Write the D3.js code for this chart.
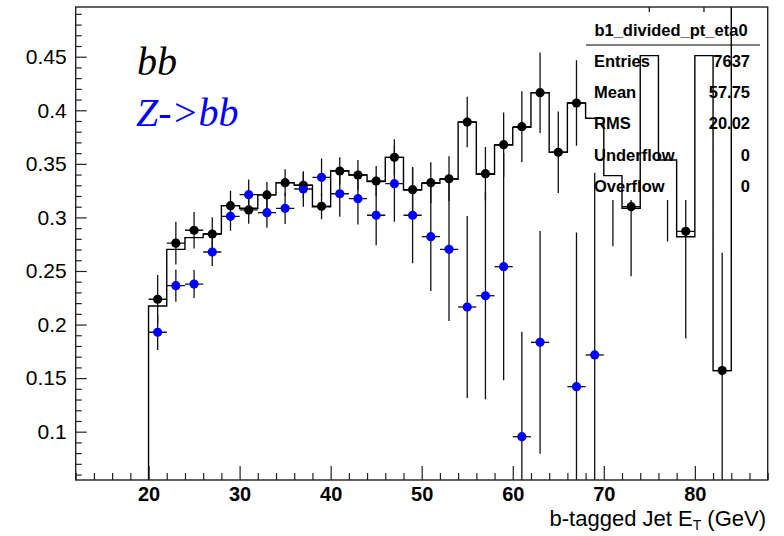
<!DOCTYPE html>
<html><head><meta charset="utf-8">
<script src="https://cdn.jsdelivr.net/npm/d3@7/dist/d3.min.js"></script>
<style>
body{margin:0;background:#fff;}
svg{display:block;}
</style></head>
<body><svg id="c" width="784" height="536"></svg>
<script>
// ---- data ----
const binEdgesLow = [12,14,16,18,20,22,24,26,28,30,32,34,36,38,40,42,44,46,48,50,52,54,56,58,60,62,64,66,68,70,72,74,76,78,80,82,84,86];
const binWidth = 2;
const stepValues = [0,0,0,0,0.2173,0.2702,0.2811,0.2845,0.311,0.3085,0.321,0.3324,0.330,0.310,0.3436,0.3396,0.3334,0.356,0.3256,0.3318,0.3356,0.389,0.3402,0.3676,0.384,0.4164,0.3608,0.4068,0.3925,0.339,0.3085,0.451,0.3536,0.282,0.451,0.157,1.0,1.0];

const blackX   = [21,23,25,27,29,31,33,35,37,39,41,43,45,47,49,51,53,55,57,59,61,63,65,67,69,71,73,75,77,79,81,83];
const blackY   = [0.2236,0.276,0.288,0.2845,0.311,0.307,0.321,0.3324,0.330,0.3104,0.3433,0.3396,0.334,0.3561,0.3259,0.3324,0.3361,0.389,0.3408,0.3679,0.3847,0.4164,0.3608,0.4068,0.3925,0.339,0.310,0.451,0.3536,0.287,0.451,0.157];
const blackErr = [0.0227,0.020,0.017,0.0156,0.014,0.013,0.012,0.0125,0.012,0.012,0.0128,0.014,0.014,0.0168,0.021,0.019,0.021,0.0236,0.025,0.030,0.033,0.0375,0.038,0.040,0.045,0.066,0.065,0.10,0.076,0.10,0.10,0.11];

const blueX   = [21,23,25,27,29,31,33,35,37,39,41,43,45,47,49,51,53,55,57,59,61,63,67,69];
const blueY   = [0.1928,0.2363,0.2378,0.2677,0.301,0.3212,0.3044,0.3085,0.3265,0.3374,0.3221,0.3175,0.302,0.3315,0.302,0.282,0.2702,0.2164,0.2269,0.254,0.0953,0.1834,0.142,0.1716];
const blueErr = [0.0165,0.015,0.013,0.013,0.0134,0.0143,0.014,0.0146,0.0165,0.0177,0.0215,0.024,0.028,0.0355,0.0448,0.0507,0.067,0.085,0.0967,0.106,0.098,0.104,0.144,0.17];

const xMajorTicks = [20,30,40,50,60,70,80];
const xMajorLabels = ["20","30","40","50","60","70","80"];
const yMajorTicks = [0.1,0.15,0.2,0.25,0.3,0.35,0.4,0.45];
const yMajorLabels = ["0.1","0.15","0.2","0.25","0.3","0.35","0.4","0.45"];

const statsTitle = "b1_divided_pt_eta0";
const statsNames = ["Entries","Mean","RMS","Underflow","Overflow"];
const statsValues = ["7637","57.75","20.02","0","0"];

// ---- layout ----
const svg = d3.select("#c");
const L=75.7, R=767.7, T=7, B=480;
const x = d3.scaleLinear().domain([12,88]).range([L,R]);
const y = d3.scaleLinear().domain([0.0549,0.4964]).range([B,T]);
const FONT = "Liberation Sans, Arial, sans-serif";

svg.append("defs").append("clipPath").attr("id","fr")
  .append("rect").attr("x",L).attr("y",T).attr("width",R-L).attr("height",B-T);

const xMinor = d3.range(12,89,2).filter(v=>!xMajorTicks.includes(v));
const yMinor = d3.range(6,50,1).map(v=>v/100).filter(v=>v>0.0549 && v<0.4964 && !yMajorTicks.some(t=>Math.abs(t-v)<1e-9));

// axes
const gx = svg.append("g").attr("transform",`translate(0,${B})`);
gx.call(d3.axisBottom(x).tickValues(xMinor).tickSize(-7).tickFormat(""));
const gx2 = svg.append("g").attr("transform",`translate(0,${B})`);
gx2.call(d3.axisBottom(x).tickValues(xMajorTicks).tickSize(-14).tickPadding(7)
  .tickFormat((d,i)=>xMajorLabels[i]));
const gy = svg.append("g").attr("transform",`translate(${L},0)`);
gy.call(d3.axisLeft(y).tickValues(yMinor).tickSize(-6).tickFormat(""));
const gy2 = svg.append("g").attr("transform",`translate(${L},0)`);
gy2.call(d3.axisLeft(y).tickValues(yMajorTicks).tickSize(-11).tickPadding(9)
  .tickFormat((d,i)=>yMajorLabels[i]));
[gx,gx2,gy,gy2].forEach(g=>{g.select(".domain").remove(); g.selectAll("line").attr("stroke","#222").attr("stroke-width",1.2);});
gx2.selectAll("text").attr("font-family",FONT).attr("font-size",20).attr("font-weight","bold").attr("fill","#000");
gy2.selectAll("text").attr("font-family",FONT).attr("font-size",21).attr("fill","#000");

const plotBlack = svg.append("g").attr("clip-path","url(#fr)");
const sb = svg.append("g");
const plotTop = svg.append("g").attr("clip-path","url(#fr)");

function drawPoints(g, xs, ys, es, color){
  const pts = xs.map((v,i)=>({x:v,y:ys[i],e:es[i]}));
  g.selectAll("line.v").data(pts).enter().append("line")
    .attr("x1",d=>x(d.x)).attr("x2",d=>x(d.x))
    .attr("y1",d=>y(d.y-d.e)).attr("y2",d=>y(d.y+d.e))
    .attr("stroke","#111").attr("stroke-width",1.3);
  g.selectAll("line.h").data(pts).enter().append("line")
    .attr("x1",d=>x(d.x-binWidth/2)).attr("x2",d=>x(d.x+binWidth/2))
    .attr("y1",d=>y(d.y)).attr("y2",d=>y(d.y))
    .attr("stroke","#111").attr("stroke-width",1.3);
  g.selectAll("circle").data(pts).enter().append("circle")
    .attr("cx",d=>x(d.x)).attr("cy",d=>y(d.y)).attr("r",4.6).attr("fill",color);
}

// black points (bb)
drawPoints(plotBlack.append("g"), blackX, blackY, blackErr, "#000");

// stats box (opaque)
sb.append("rect").attr("x",585).attr("y",12).attr("width",R-585).attr("height",188).attr("fill","#fff");
sb.append("text").attr("x",671).attr("y",36).attr("text-anchor","middle")
  .attr("font-family",FONT).attr("font-weight","bold").attr("font-size",16.5).text(statsTitle);
sb.append("line").attr("x1",586).attr("x2",760).attr("y1",45).attr("y2",45).attr("stroke","#000").attr("stroke-width",1.2);
statsNames.forEach((n,i)=>{
  const yy = 67 + i*31.2;
  sb.append("text").attr("x",594).attr("y",yy).attr("font-family",FONT)
    .attr("font-weight","bold").attr("font-size",16.5).text(n);
  sb.append("text").attr("x",750).attr("y",yy).attr("text-anchor","end").attr("font-family",FONT)
    .attr("font-weight","bold").attr("font-size",16.5).text(statsValues[i]);
});

// blue points (Z->bb)
drawPoints(plotTop.append("g"), blueX, blueY, blueErr, "#0000ff");

// step histogram
const stepData = [];
binEdgesLow.forEach((lo,i)=>{ stepData.push([lo, stepValues[i]]); stepData.push([lo+binWidth, stepValues[i]]); });
const line = d3.line().x(d=>x(d[0])).y(d=>y(d[1]));
plotTop.append("path").attr("d",line(stepData)).attr("fill","none").attr("stroke","#000").attr("stroke-width",1.4);

// frame
svg.append("rect").attr("x",L).attr("y",T).attr("width",R-L).attr("height",B-T)
  .attr("fill","none").attr("stroke","#222").attr("stroke-width",1.4);

// axis title
const tt = svg.append("text").attr("x",766).attr("y",526).attr("text-anchor","end")
  .attr("font-family",FONT).attr("font-size",22).attr("fill","#000");
tt.append("tspan").text("b-tagged Jet E");
tt.append("tspan").attr("font-size",14).attr("dy",4).text("T");
tt.append("tspan").attr("dy",-4).text(" (GeV)");

// legend texts
svg.append("text").attr("x",137).attr("y",75).attr("font-family","Liberation Serif, Times New Roman, serif")
  .attr("font-style","italic").attr("font-size",40).attr("fill","#000").text("bb");
svg.append("text").attr("x",136).attr("y",126).attr("font-family","Liberation Serif, Times New Roman, serif")
  .attr("font-style","italic").attr("font-size",40).attr("fill","#0000ff").text("Z->bb");
</script></body></html>
